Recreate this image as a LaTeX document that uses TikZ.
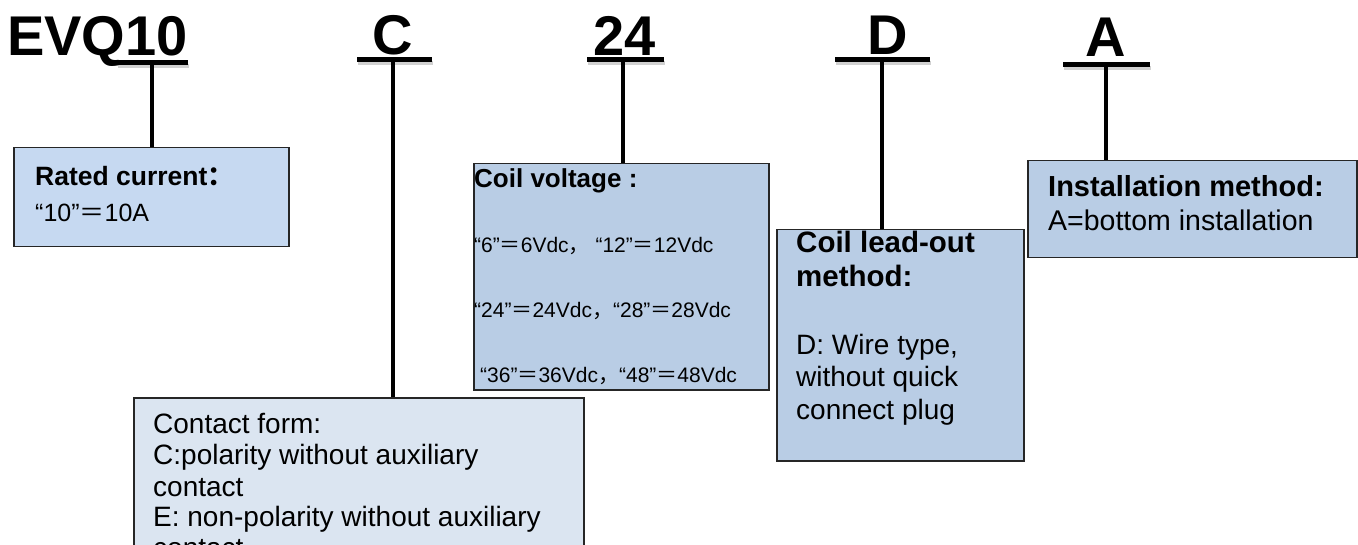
\documentclass[tikz,border=0pt]{standalone}
\usepackage{fontspec}
\setmainfont{Liberation Sans}
\newfontfamily\cjk{Noto Sans CJK SC}
\definecolor{boxone}{HTML}{C6D9F1}
\definecolor{boxmid}{HTML}{B9CDE5}
\definecolor{boxlight}{HTML}{DBE5F1}
\newcommand{\fsz}[1]{\fontsize{#1}{#1}\selectfont}
\newcommand{\feq}{{\cjk ＝}}
\begin{document}
\begin{tikzpicture}[x=1pt,y=-1pt,
  title/.style={anchor=base west, inner sep=0pt, font=\fsz{56}\bfseries},
  bar/.style={line width=5pt, black},
  barshadow/.style={line width=4pt, black, opacity=0.18},
  stem/.style={line width=4pt, black},
  infobox/.style={draw=black!85, line width=1.5pt, anchor=north west, inner sep=0pt},
  txt/.style={anchor=base west, inner sep=0pt}]
\useasboundingbox (0,0) rectangle (1358,545);
\clip (0,0) rectangle (1358,545);

% titles
\node[title] (tEVQ) at (7,56) {EVQ10};
\node[title] (tC) at (372,55) {C};
\node[title] (t24) at (593,56) {24};
\node[title] (tD) at (867,55) {D};
\node[title] (tA) at (1085,57) {A};

% bar anchor points
\coordinate (k1) at (152,63);
\coordinate (k2) at (393,60);
\coordinate (k3) at (623,60);
\coordinate (k4) at (882,60);
\coordinate (k5) at (1106,65);

% boxes
\node[infobox, fill=boxone, minimum width=275pt, minimum height=99pt] (b1) at (13,147) {};
\node[infobox, fill=boxlight, minimum width=450pt, minimum height=200pt] (b2) at (133,397) {};
\node[infobox, fill=boxmid, minimum width=295pt, minimum height=226pt] (b3) at (473,163) {};
\node[infobox, fill=boxmid, minimum width=247pt, minimum height=231pt] (b4) at (776,229) {};
\node[infobox, fill=boxmid, minimum width=329pt, minimum height=97pt] (b5) at (1027,160) {};

% stems
\draw[stem] (k1) -- (k1 |- b1.north);
\draw[stem] (k2) -- (k2 |- b2.north);
\draw[stem] (k3) -- (k3 |- b3.north);
\draw[stem] (k4) -- (k4 |- b4.north);
\draw[stem] (k5) -- (k5 |- b5.north);

% bars with soft shadow
\foreach \a/\b/\yy in {117/188/63, 357/432/60, 587/664/60, 835/930/60, 1063/1150/65}{
  \draw[barshadow] (\a+1,\yy+3) -- (\b+1,\yy+3);
  \draw[bar] (\a,\yy) -- (\b,\yy);
}

% box 1 text
\node[txt, font=\fsz{26.5}\bfseries] (r1) at (35,186) {Rated current{\cjk ：}};
\node[txt, font=\fsz{25}] (r2) at (35,222) {“10”\feq10A};

% box C text
\node[txt, font=\fsz{28}] (c1) at (153,433) {Contact form:};
\node[txt, font=\fsz{28}] (c2) at (153,464) {C:polarity without auxiliary};
\node[txt, font=\fsz{28}] (c3) at (153,496) {contact};
\node[txt, font=\fsz{28}] (c4) at (153,526) {E: non-polarity without auxiliary};
\node[txt, font=\fsz{28}] (c5) at (153,557) {contact};

% box 24 text
\node[txt, font=\fsz{26}\bfseries] (v0) at (474,188) {Coil voltage :};
\node[txt, font=\fsz{21}] (v1) at (474,253) {“6”\feq6Vdc{\cjk ，} “12”\feq12Vdc};
\node[txt, font=\fsz{21}] (v2) at (474,318) {“24”\feq24Vdc{\cjk ，}“28”\feq28Vdc};
\node[txt, font=\fsz{21}] (v3) at (480,383) {“36”\feq36Vdc{\cjk ，}“48”\feq48Vdc};

% box D text
\node[txt, font=\fsz{29.5}\bfseries] (d1) at (796,253) {Coil lead-out};
\node[txt, font=\fsz{29.5}\bfseries] (d2) at (796,287) {method:};
\node[txt, font=\fsz{28}] (d3) at (796,355) {D: Wire type,};
\node[txt, font=\fsz{28}] (d4) at (796,387) {without quick};
\node[txt, font=\fsz{28}] (d5) at (796,419) {connect plug};

% box A text
\node[txt, font=\fsz{29}\bfseries] (a1) at (1048,197) {Installation method:};
\node[txt, font=\fsz{28.5}] (a2) at (1048,231) {A=bottom installation};
\end{tikzpicture}
\end{document}
